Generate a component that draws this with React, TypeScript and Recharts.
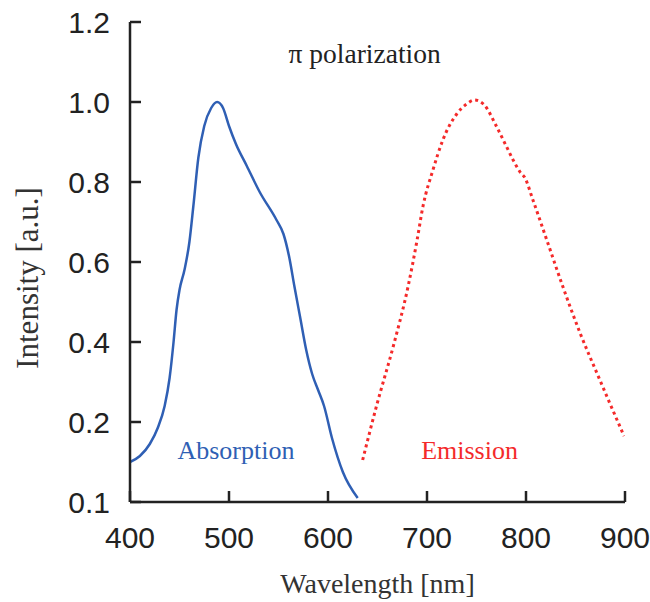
import { LineChart, Line, XAxis, YAxis, ReferenceDot } from "recharts";

// wavelength axis (nm)
const wlTicks = [400, 500, 600, 700, 800, 900];
// intensity axis; bottom tick is printed as "0.1" in the original figure
const intTicks = [0, 0.2, 0.4, 0.6, 0.8, 1.0, 1.2];
const intTickLabels = ["0.1", "0.2", "0.4", "0.6", "0.8", "1.0", "1.2"];

const absWavelength = [
  400, 410, 420, 428, 435, 440, 444, 447, 450, 455, 460, 464, 469, 475, 482, 488,
  494, 500, 507, 518, 531, 548, 555, 561, 566, 572, 578, 584, 590, 596, 604, 615, 630,
];
const absIntensity = [
  0.1, 0.115, 0.145, 0.185, 0.24, 0.31, 0.4, 0.48, 0.53, 0.58, 0.65, 0.74, 0.86, 0.94, 0.985, 1.0,
  0.985, 0.94, 0.895, 0.84, 0.775, 0.705, 0.67, 0.61, 0.54, 0.46, 0.38, 0.32, 0.28, 0.24, 0.16, 0.075, 0.01,
];

const emWavelength = [
  635, 649, 666, 681, 690, 696, 706, 716, 730, 740, 748, 757, 770, 780, 787, 794,
  799, 807, 821, 837, 855, 872, 885, 899,
];
const emIntensity = [
  0.105, 0.24, 0.39, 0.54, 0.655, 0.74, 0.83, 0.905, 0.97, 0.995, 1.005, 0.995, 0.94, 0.89, 0.855, 0.825,
  0.81, 0.755, 0.655, 0.54, 0.42, 0.32, 0.245, 0.165,
];

const absorption = absWavelength.map((wl, i) => ({ wl, v: absIntensity[i] }));
const emission = emWavelength.map((wl, i) => ({ wl, v: emIntensity[i] }));

const BLUE = "#2f5fb4";
const RED = "#f42a2a";
const AXIS = "#222";
const sans = "'Liberation Sans', Arial, sans-serif";
const serif = "'Liberation Serif', 'Times New Roman', serif";
const TICK = 11;

// layout
const W = 650;
const H = 602;
const margin = { top: 22, right: 25, bottom: 0, left: 0 };
const Y_AXIS_W = 130;
const X_AXIS_H = 100;
const plotLeft = margin.left + Y_AXIS_W;
const plotRight = W - margin.right;
const plotTop = margin.top;
const plotBottom = H - margin.bottom - X_AXIS_H;

const fmtInt = (v: number) => {
  const i = intTicks.indexOf(v);
  return i >= 0 ? intTickLabels[i] : String(v);
};

// inward ticks drawn against the box edges
function BottomTick(p: any) {
  return (
    <g>
      <line x1={p.x} x2={p.x} y1={plotBottom} y2={plotBottom - TICK} stroke={AXIS} strokeWidth={2.5} />
      <text x={p.x} y={plotBottom + 46} textAnchor="middle" fontSize={30} fontFamily={sans} fill={AXIS}>
        {p.payload.value}
      </text>
    </g>
  );
}
function TopTick(p: any) {
  return <line x1={p.x} x2={p.x} y1={plotTop} y2={plotTop + TICK} stroke={AXIS} strokeWidth={2.5} />;
}
function LeftTick(p: any) {
  return (
    <g>
      <line x1={plotLeft} x2={plotLeft + TICK} y1={p.y} y2={p.y} stroke={AXIS} strokeWidth={2.5} />
      <text x={plotLeft - 20} y={p.y + 11} textAnchor="end" fontSize={30} fontFamily={sans} fill={AXIS}>
        {fmtInt(p.payload.value)}
      </text>
    </g>
  );
}
function RightTick(p: any) {
  return <line x1={plotRight} x2={plotRight - TICK} y1={p.y} y2={p.y} stroke={AXIS} strokeWidth={2.5} />;
}

function YTitle(p: any) {
  const vb = p.viewBox;
  const cx = vb.x + 27;
  const cy = vb.y + vb.height / 2 + 16;
  return (
    <text
      x={cx}
      y={cy}
      transform={`rotate(-90 ${cx} ${cy})`}
      textAnchor="middle"
      dy="0.35em"
      fontSize={31}
      fontFamily={serif}
      fill="#333"
    >
      Intensity [a.u.]
    </text>
  );
}

export default function App() {
  return (
    <div style={{ position: "absolute", left: 0, top: 0, background: "#fff" }}>
      <LineChart width={W} height={H} margin={margin}>
        <XAxis
          xAxisId="b"
          dataKey="wl"
          type="number"
          domain={[400, 900]}
          ticks={wlTicks}
          allowDataOverflow
          height={X_AXIS_H}
          tickLine={false}
          tick={BottomTick}
          stroke={AXIS}
          strokeWidth={2.5}
          label={{
            value: "Wavelength [nm]",
            position: "insideBottom",
            offset: 9,
            style: { fontSize: 28, fontFamily: serif, fill: "#333" },
          }}
        />
        <XAxis
          xAxisId="t"
          orientation="top"
          dataKey="wl"
          type="number"
          domain={[400, 900]}
          ticks={wlTicks}
          height={0}
          tickLine={false}
          tick={TopTick}
          stroke={AXIS}
          strokeWidth={2.5}
        />
        <YAxis
          yAxisId="l"
          type="number"
          domain={[0, 1.2]}
          ticks={intTicks}
          allowDataOverflow
          width={Y_AXIS_W}
          tickLine={false}
          tick={LeftTick}
          stroke={AXIS}
          strokeWidth={2.5}
          label={{ content: YTitle }}
        />
        <YAxis
          yAxisId="r"
          orientation="right"
          type="number"
          domain={[0, 1.2]}
          ticks={intTicks}
          width={0}
          tickLine={false}
          tick={RightTick}
          stroke={AXIS}
          strokeWidth={2.5}
        />

        <Line
          xAxisId="b"
          yAxisId="l"
          data={absorption}
          dataKey="v"
          type="monotone"
          stroke={BLUE}
          strokeWidth={2.5}
          dot={false}
          isAnimationActive={false}
        />
        <Line
          xAxisId="b"
          yAxisId="l"
          data={emission}
          dataKey="v"
          type="monotone"
          stroke={RED}
          strokeWidth={3}
          strokeDasharray="3 3.5"
          dot={false}
          isAnimationActive={false}
        />

        <ReferenceDot
          xAxisId="b"
          yAxisId="l"
          x={637}
          y={1.1225}
          r={0}
          stroke="none"
          label={{ value: "π polarization", position: "center", style: { fontSize: 27.5, fontFamily: serif, fill: "#222" } }}
        />
        <ReferenceDot
          xAxisId="b"
          yAxisId="l"
          x={507}
          y={0.13}
          r={0}
          stroke="none"
          label={{ value: "Absorption", position: "center", style: { fontSize: 26, fontFamily: serif, fill: BLUE } }}
        />
        <ReferenceDot
          xAxisId="b"
          yAxisId="l"
          x={743}
          y={0.13}
          r={0}
          stroke="none"
          label={{ value: "Emission", position: "center", style: { fontSize: 26, fontFamily: serif, fill: RED } }}
        />
      </LineChart>
    </div>
  );
}
